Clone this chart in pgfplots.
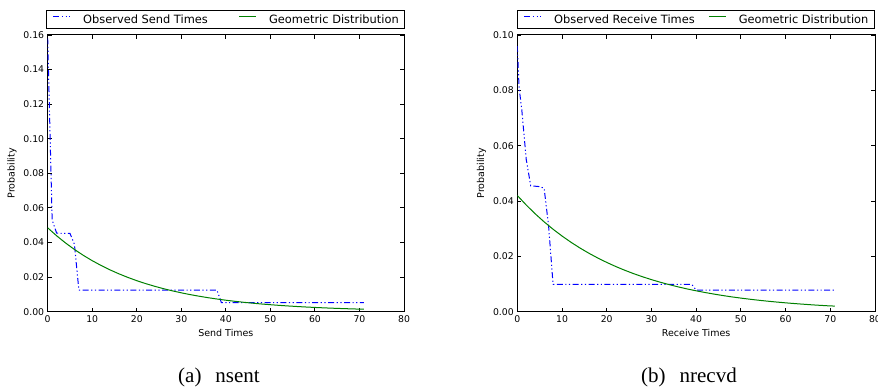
\documentclass[border=0pt]{standalone}
\usepackage{pgfplots}
\pgfplotsset{compat=1.18}
\usepackage{fontspec}
\setmainfont{DejaVu Sans}
\newfontfamily\capfont{Liberation Serif}
\definecolor{mplgreen}{rgb}{0,0.5,0}
\definecolor{mplblue}{rgb}{0,0,1}

\pgfplotsset{
  mystyle/.style={
    scale only axis,
    height=276.7pt,
    xmin=0, xmax=80, ymin=0,
    xtick={0,10,20,30,40,50,60,70,80},
    tick align=inside,
    xtick pos=both, ytick pos=both,
    major tick length=4pt,
    axis line style={line width=1pt},
    every tick/.style={black, line width=0.9pt},
    tick label style={font=\fontsize{9.3}{11}\selectfont},
    label style={font=\fontsize{9.5}{11}\selectfont},
    /pgf/number format/assume math mode=true,
    yticklabel style={/pgf/number format/.cd, fixed, fixed zerofill, precision=2},
    scaled y ticks=false,
    legend columns=2,
    legend cell align=left,
    legend image code/.code={\draw[##1] (0pt,3.6pt) -- (17pt,3.6pt);},
    legend style={at={(0.5,1)}, anchor=south, yshift=5.7pt,
      draw=black, line width=0.8pt, inner xsep=6pt, inner ysep=4pt,
      font=\fontsize{11.4}{13}\selectfont,
      nodes={inner sep=0pt},
      /tikz/every odd column/.append style={column sep=12.3pt}},
  },
  obs/.style={mplblue, line width=1pt,
    dash pattern=on 6pt off 2.5pt on 1.2pt off 2.5pt on 1.2pt off 2.5pt},
  geo/.style={mplgreen, line width=1pt},
}

\begin{document}
\begin{tikzpicture}
\begin{axis}[mystyle,
  at={(47.7pt,78.3pt)}, anchor=south west,
  width=356.3pt,
  ymax=0.16,
  ytick={0,0.02,0.04,0.06,0.08,0.10,0.12,0.14,0.16},
  xlabel={Send Times}, ylabel={Probability},
  legend style={/tikz/every even column/.append style={column sep=31pt}},
]
\addplot[obs] coordinates {
(0,0.158) (1,0.053) (2,0.0455) (3,0.0453) (5,0.0453) (6,0.039)
(7,0.0125) (38,0.0125) (39,0.0052) (71,0.0052)};
\addlegendentry{Observed Send Times}
\addplot[geo] coordinates {
(0,0.04850) (2,0.04391) (4,0.03975) (6,0.03599) (8,0.03258) (10,0.02950)
(12,0.02671) (14,0.02418) (16,0.02189) (18,0.01982) (20,0.01794)
(22,0.01624) (24,0.01471) (26,0.01331) (28,0.01205) (30,0.01091)
(32,0.00988) (34,0.00895) (36,0.00810) (38,0.00733) (40,0.00664)
(42,0.00601) (44,0.00544) (46,0.00493) (48,0.00446) (50,0.00404)
(52,0.00366) (54,0.00331) (56,0.00300) (58,0.00271) (60,0.00246)
(62,0.00222) (64,0.00201) (66,0.00182) (68,0.00165) (70,0.00149)
(71,0.00142)};
\addlegendentry{Geometric Distribution}
\end{axis}

\begin{axis}[mystyle,
  at={(517.3pt,78.3pt)}, anchor=south west,
  width=357.7pt,
  ymax=0.10,
  ytick={0,0.02,0.04,0.06,0.08,0.10},
  xlabel={Receive Times}, ylabel={Probability},
  legend style={/tikz/every even column/.append style={column sep=13.7pt}},
]
\addplot[obs] coordinates {
(0,0.096) (0.4,0.081) (1,0.073) (2,0.055) (3,0.0455) (5,0.0452) (6,0.0446)
(7,0.031) (8,0.0099) (39,0.0099) (40,0.0078) (71,0.0078)};
\addlegendentry{Observed Receive Times}
\addplot[geo] coordinates {
(0,0.04200) (2,0.03855) (4,0.03538) (6,0.03247) (8,0.02980) (10,0.02735)
(12,0.02510) (14,0.02303) (16,0.02114) (18,0.01940) (20,0.01781)
(22,0.01634) (24,0.01500) (26,0.01376) (28,0.01263) (30,0.01159)
(32,0.01064) (34,0.00976) (36,0.00896) (38,0.00822) (40,0.00755)
(42,0.00693) (44,0.00636) (46,0.00583) (48,0.00535) (50,0.00491)
(52,0.00451) (54,0.00414) (56,0.00380) (58,0.00349) (60,0.00320)
(62,0.00294) (64,0.00270) (66,0.00247) (68,0.00227) (70,0.00208)
(71,0.00204)};
\addlegendentry{Geometric Distribution}
\end{axis}

\node[anchor=base, font=\capfont\fontsize{21}{24}\selectfont] at (219pt,7pt) {(a)\hspace{14pt}nsent};
\node[anchor=base, font=\capfont\fontsize{21}{24}\selectfont] at (689pt,7pt) {(b)\hspace{14pt}nrecvd};

\pgfresetboundingbox
\path[use as bounding box] (0pt,0pt) rectangle (878pt,390pt);
\end{tikzpicture}
\end{document}
